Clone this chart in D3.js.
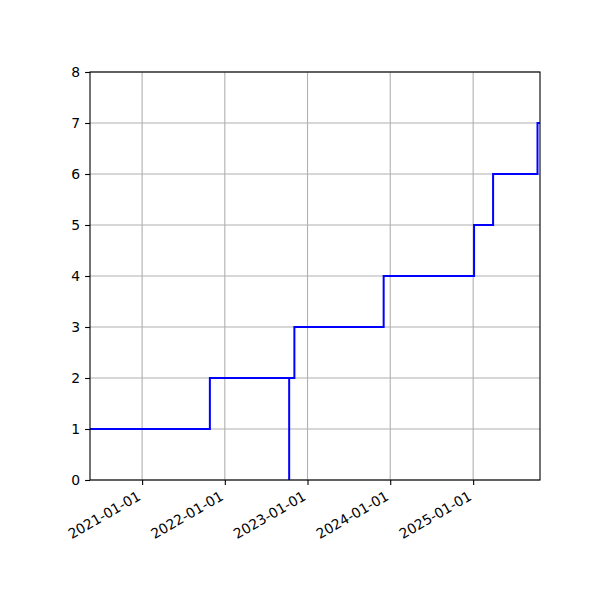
<!DOCTYPE html>
<html>
<head>
<meta charset="utf-8">
<script src="https://cdn.jsdelivr.net/npm/d3@7"></script>
<style>
  body { margin: 0; background: #fff; }
  svg { display: block; }
</style>
</head>
<body>
<svg id="chart" width="600" height="600"></svg>
<script>
// step data (drawn as steps-post)
const dates = ['2020-05-16', '2021-10-27', '2022-10-12', '2022-10-12', '2022-11-04',
               '2023-12-03', '2025-01-05', '2025-03-30', '2025-10-12', '2025-10-23'];
const values = [1, 2, 0, 2, 3, 4, 5, 6, 7, 7];
const xTickLabels = ['2021-01-01', '2022-01-01', '2023-01-01', '2024-01-01', '2025-01-01'];
const yTicks = [0, 1, 2, 3, 4, 5, 6, 7, 8];

const parse = d3.utcParse('%Y-%m-%d');
const data = dates.map((d, i) => ({ date: parse(d), value: values[i] }));

const margin = { top: 72, right: 60, bottom: 120, left: 90 };
const width = 600 - margin.left - margin.right;
const height = 600 - margin.top - margin.bottom;
const font = '"DejaVu Sans", sans-serif';

const svg = d3.select('#chart');
const g = svg.append('g').attr('transform', `translate(${margin.left},${margin.top})`);

const x = d3.scaleUtc()
  .domain(d3.extent(data, d => d.date))
  .range([0, width]);

const y = d3.scaleLinear()
  .domain([0, 8])
  .range([height, 0]);

const xTicks = xTickLabels.map(parse);

// grid
g.append('g')
  .selectAll('line')
  .data(xTicks)
  .enter().append('line')
  .attr('x1', d => x(d)).attr('x2', d => x(d))
  .attr('y1', 0).attr('y2', height)
  .attr('stroke', '#b0b0b0').attr('stroke-width', 1.1);

g.append('g')
  .selectAll('line')
  .data(yTicks)
  .enter().append('line')
  .attr('x1', 0).attr('x2', width)
  .attr('y1', d => y(d)).attr('y2', d => y(d))
  .attr('stroke', '#b0b0b0').attr('stroke-width', 1.1);

// step line
const line = d3.line()
  .x(d => x(d.date))
  .y(d => y(d.value))
  .curve(d3.curveStepAfter);

g.append('path')
  .datum(data)
  .attr('fill', 'none')
  .attr('stroke', '#0000ff')
  .attr('stroke-width', 2)
  .attr('d', line);

// axes
const xAxis = g.append('g')
  .attr('transform', `translate(0,${height})`)
  .call(d3.axisBottom(x)
    .tickValues(xTicks)
    .tickSize(4.9)
    .tickPadding(0)
    .tickFormat(d3.utcFormat('%Y-%m-%d')));

xAxis.selectAll('text')
  .attr('text-anchor', 'end')
  .attr('dy', null)
  .attr('y', 0)
  .attr('transform', 'translate(-1,19) rotate(-30)');

const yAxis = g.append('g')
  .call(d3.axisLeft(y)
    .tickValues(yTicks)
    .tickSize(4.9)
    .tickPadding(4.9)
    .tickFormat(d3.format('d')));

[xAxis, yAxis].forEach(a => {
  a.attr('font-family', font).attr('font-size', 13.9);
  a.select('.domain').remove();
  a.selectAll('.tick line').attr('stroke', '#000').attr('stroke-width', 1.1);
  a.selectAll('.tick text').attr('fill', '#000');
});

// frame
g.append('rect')
  .attr('x', 0).attr('y', 0)
  .attr('width', width).attr('height', height)
  .attr('fill', 'none')
  .attr('stroke', '#000')
  .attr('stroke-width', 1.1);
</script>
</body>
</html>
